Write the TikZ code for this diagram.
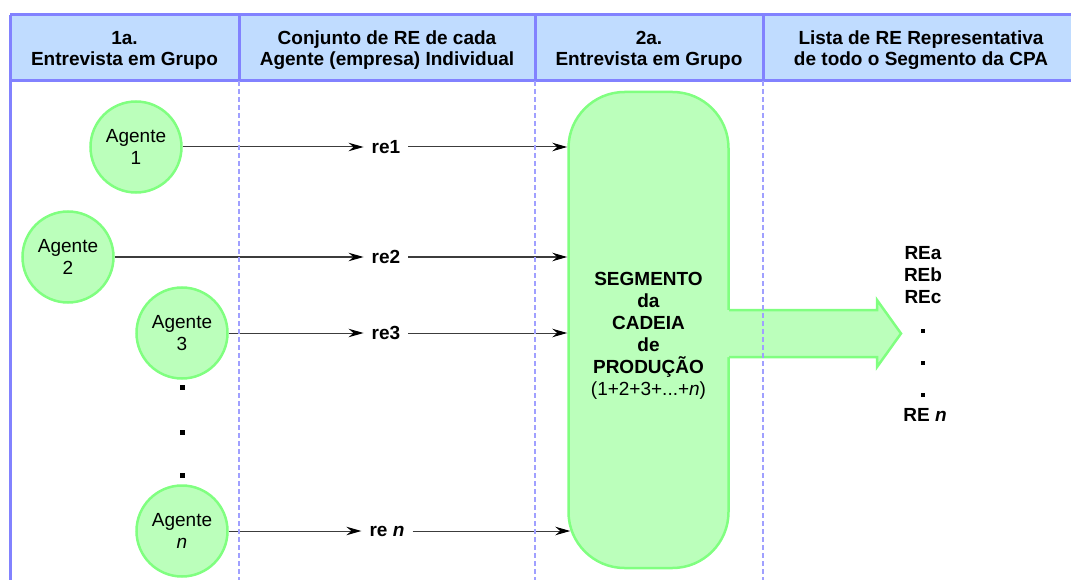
\documentclass[tikz,border=0pt]{standalone}
\usepackage{fontspec}
\setmainfont{Liberation Sans}
\usetikzlibrary{arrows.meta}
\definecolor{hdrfill}{RGB}{192,220,255}
\definecolor{hdrline}{RGB}{130,130,255}
\definecolor{dashline}{RGB}{160,160,255}
\definecolor{gfill}{RGB}{187,255,187}
\definecolor{gline}{RGB}{128,255,128}
\definecolor{connline}{RGB}{60,60,60}
\begin{document}
\begin{tikzpicture}[x=1pt,y=-1pt,
  every node/.style={font=\fontsize{19}{22}\selectfont, inner sep=0pt},
  hdr/.style={font=\fontsize{19}{21}\selectfont\bfseries, align=center},
  agent/.style={circle, draw=gline, fill=gfill, line width=2.5pt, minimum size=91pt, align=center},
  relab/.style={font=\fontsize{19}{22}\selectfont\bfseries, inner xsep=8pt, inner ysep=3pt},
  conn/.style={draw=connline, line width=1pt, -{Stealth[length=15pt,width=8.5pt,inset=5pt,color=black,fill=black]}},
  sepline/.style={draw=dashline, line width=1.1pt, dash pattern=on 5pt off 3pt},
  framestyle/.style={draw=hdrline, line width=3pt},
  dotmark/.style={fill=black},
  listtxt/.style={font=\fontsize{19}{22}\selectfont\bfseries, align=center},
]
\path[use as bounding box, clip] (0,0) rectangle (1071,580);

% header
\path[fill=hdrfill] (10,15) rectangle (1090,81);
\draw[framestyle] (10,15) -- (1090,15);
\draw[framestyle] (10,81) -- (1090,81);
\draw[framestyle] (10,15) -- (10,590);
\draw[framestyle] (239,15) -- (239,81);
\draw[framestyle] (535,15) -- (535,81);
\draw[framestyle] (763,15) -- (763,81);

\node[hdr] (h1) at (124.5,50) {1a.\\Entrevista em Grupo};
\node[hdr] (h2) at (387,50) {Conjunto de RE de cada\\Agente (empresa) Individual};
\node[hdr] (h3) at (649,50) {2a.\\Entrevista em Grupo};
\node[hdr] (h4) at (921,50) {Lista de RE Representativa\\de todo o Segmento da CPA};

% segment box
\node[draw=gline, fill=gfill, line width=2.5pt, rounded corners=56pt,
      minimum width=160pt, minimum height=476pt] (seg) at (648.5,330) {};
\node[align=center] (segtxt) at (648.5,336)
  {\textbf{SEGMENTO}\\\textbf{da}\\\textbf{CADEIA}\\\textbf{de}\\\textbf{PRODUÇÃO}\\(1+2+3+...+\textit{n})};

% big arrow
\fill[gfill] (726,310) -- (877,310) -- (877,300) -- (901,333.5) -- (877,367) -- (877,357) -- (726,357) -- cycle;
\draw[draw=gline, line width=2.5pt, miter limit=10] (729,310) -- (877,310) -- (877,300) -- (901,333.5) -- (877,367) -- (877,357) -- (729,357);

% agents
\node[agent] (a1) at (136,147) {Agente\\1};
\node[agent] (a2) at (68,257) {Agente\\2};
\node[agent] (a3) at (182,333) {Agente\\3};
\node[agent] (an) at (182,531) {Agente\\\textit{n}};

\fill[dotmark] (179.5,384.5) rectangle (184.5,389.5);
\fill[dotmark] (179.5,429.5) rectangle (184.5,434.5);
\fill[dotmark] (179.5,472.5) rectangle (184.5,477.5);

% RE labels
\node[relab] (r1) at (386,147) {re1};
\node[relab] (r2) at (386,257) {re2};
\node[relab] (r3) at (386,333) {re3};
\node[relab] (rn) at (387,531) {re \textit{n}};

\draw[conn] (a1) -- (r1);
\draw[conn] (a2) -- (r2);
\draw[conn] (a3) -- (r3);
\draw[conn] (an) -- (rn);
\draw[conn] (r1) -- (r1 -| seg.west);
\draw[conn] (r2) -- (r2 -| seg.west);
\draw[conn] (r3) -- (r3 -| seg.west);
\draw[conn] (rn) -- ([xshift=3pt]rn -| seg.west);

% dashed separators
\draw[sepline] (239,81) -- (239,580);
\draw[sepline] (535,81) -- (535,580);
\draw[sepline] (763,81) -- (763,580);

% result list
\node[listtxt] (lst) at (923,275) {REa\\REb\\REc};
\fill[dotmark] (920.5,328.5) rectangle (925,333);
\fill[dotmark] (920.5,360.5) rectangle (925,365);
\fill[dotmark] (920.5,392.5) rectangle (925,397);
\node[listtxt] (ren) at (925,415) {RE \textit{n}};
\end{tikzpicture}
\end{document}
